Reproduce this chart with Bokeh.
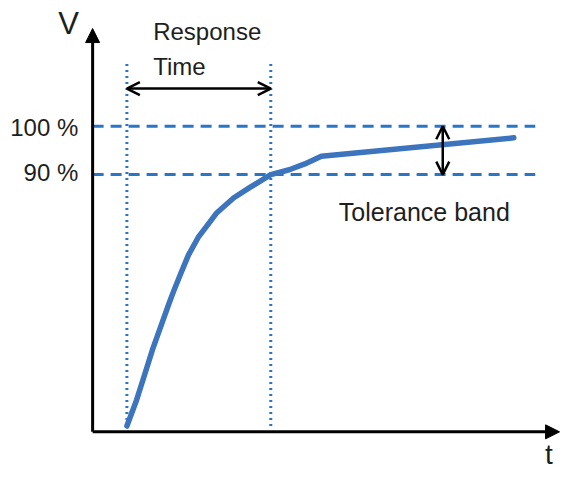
from bokeh.plotting import figure
from bokeh.models import Arrow, NormalHead, OpenHead, Range1d
from bokeh.core.properties import value
from bokeh.embed import file_html
from bokeh.resources import INLINE

# ---- data (time t in arbitrary units, V in percent) ----
curve_t = [1.000, 1.284, 1.519, 1.758, 1.993, 2.229, 2.371, 2.561, 2.796, 3.080,
           3.364, 3.611, 4.122, 4.605, 5.200, 5.739, 6.193, 6.675, 12.295]
curve_v = [38.0, 43.4, 48.66, 54.0, 58.66, 63.34, 66.0, 69.34, 73.34, 77.0,
           79.66, 82.0, 85.2, 87.4, 90.0, 91.0, 92.2, 93.8, 97.6]

levels = [100, 90]
level_labels = ["100 %", "90 %"]
level_label_v = [99.8, 90.4]

response_t = [1.0, 5.2]          # start / end of response time
response_arrow_v = 107.8
dotted_top_v = 113.4

axis_t = 0.0
axis_v = 36.8
axis_t_end = 13.63
axis_v_end = 120.2
dash_t_end = 12.92

tolerance_arrow_t = 10.22

BLUE_CURVE = "#3C74BE"
BLUE_REF = "#2A76C6"
TXT = "#1e1e1e"
FONT = value("Liberation Sans")

p = figure(width=560, height=471,
           x_range=Range1d(-2.689, 13.657), y_range=Range1d(28.6, 126),
           output_backend="svg", toolbar_location=None, min_border=0,
           x_axis_location=None, y_axis_location=None)
p.grid.visible = False
p.outline_line_color = None
p.background_fill_color = "white"
p.border_fill_color = "white"

# horizontal dashed reference lines
for lv in levels:
    p.line([axis_t, dash_t_end], [lv, lv], line_color=BLUE_REF, line_width=3, line_dash="11 7")

# vertical dotted response-time lines
for rt in response_t:
    p.line([rt, rt], [curve_v[0], dotted_top_v], line_color=BLUE_REF, line_width=3, line_dash="2 4")

# response curve
p.line(curve_t, curve_v, line_color=BLUE_CURVE, line_width=5.5, line_join="round", line_cap="round")

# axes with arrowheads
p.add_layout(Arrow(end=NormalHead(size=14, fill_color="black", line_color="black"),
                   x_start=axis_t, y_start=axis_v, x_end=axis_t, y_end=axis_v_end,
                   line_width=3, line_color="black"))
p.add_layout(Arrow(end=NormalHead(size=14, fill_color="black", line_color="black"),
                   x_start=axis_t, y_start=axis_v, x_end=axis_t_end, y_end=axis_v,
                   line_width=3, line_color="black"))

# response time double arrow
p.add_layout(Arrow(start=OpenHead(size=13, line_width=2.5, line_color="black"),
                   end=OpenHead(size=13, line_width=2.5, line_color="black"),
                   x_start=response_t[0], y_start=response_arrow_v,
                   x_end=response_t[1], y_end=response_arrow_v,
                   line_width=2.5, line_color="black"))

# tolerance band double arrow
p.add_layout(Arrow(start=OpenHead(size=13, line_width=2.5, line_color="black"),
                   end=OpenHead(size=13, line_width=2.5, line_color="black"),
                   x_start=tolerance_arrow_t, y_start=levels[1],
                   x_end=tolerance_arrow_t, y_end=levels[0],
                   line_width=2.5, line_color="black"))

# texts
p.text(x=[-0.419, -0.419], y=level_label_v, text=level_labels, text_font=FONT,
       text_font_size="24px", text_align="right", text_baseline="alphabetic", text_color=TXT)
p.text(x=[1.768, 1.768], y=[119.6, 112.4], text=["Response", "Time"], text_font=FONT,
       text_font_size="24px", text_align="left", text_baseline="alphabetic", text_color=TXT)
p.text(x=[7.187], y=[82.3], text=["Tolerance band"], text_font=FONT,
       text_font_size="25px", text_align="left", text_baseline="alphabetic", text_color=TXT)
p.text(x=[-0.703], y=[121.3], text=["V"], text_font=FONT,
       text_font_size="31px", text_align="center", text_baseline="alphabetic", text_color=TXT)
p.text(x=[13.317], y=[32.1], text=["t"], text_font=FONT,
       text_font_size="28px", text_align="center", text_baseline="alphabetic", text_color=TXT)

open("out.html", "w").write(file_html(p, INLINE))
